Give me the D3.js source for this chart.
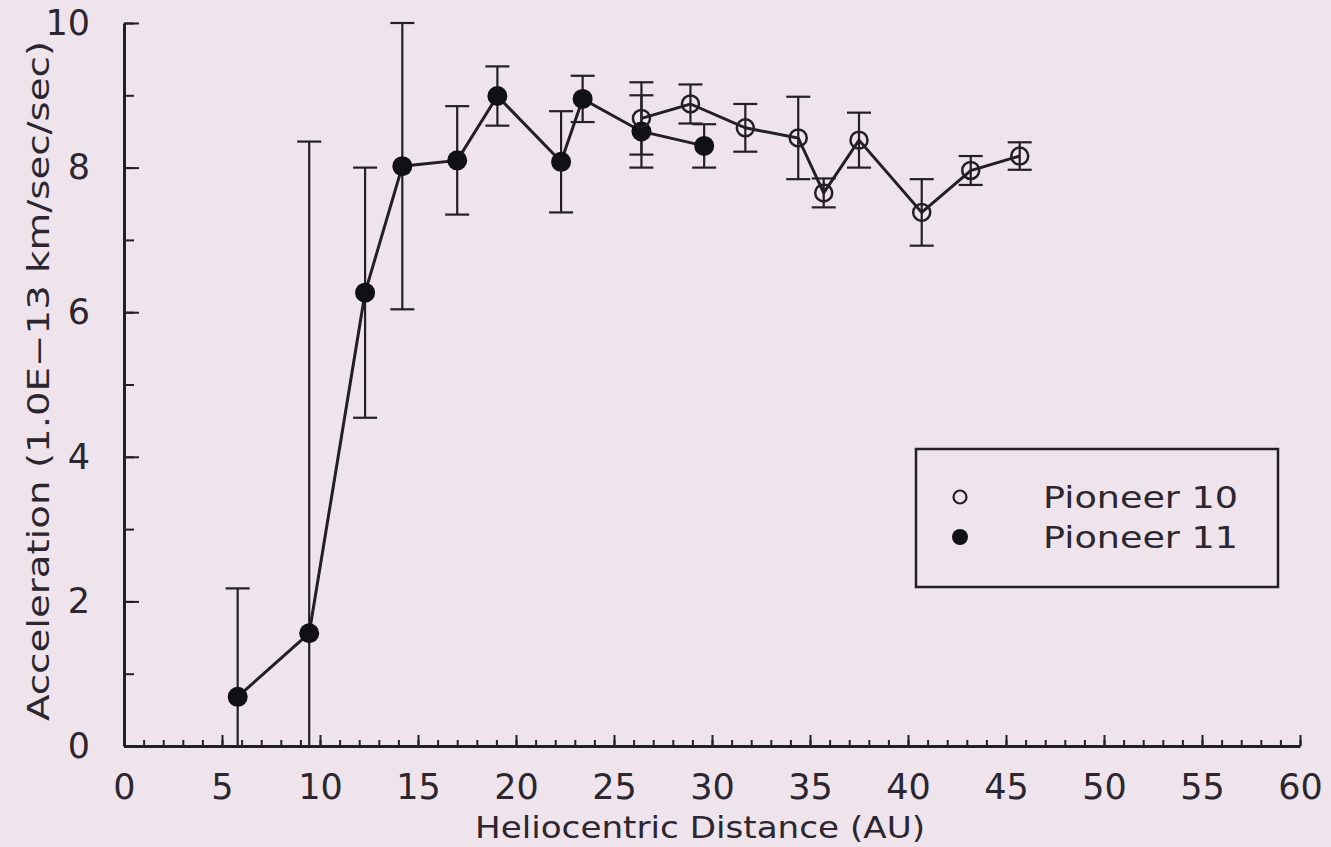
<!DOCTYPE html>
<html>
<head>
<meta charset="utf-8">
<script src="https://cdn.jsdelivr.net/npm/d3@7"></script>
<style>
  html, body { margin: 0; padding: 0; background: #efe4ec; }
  svg { display: block; }
  text { font-family: "DejaVu Sans", sans-serif; fill: #2b2630; }
</style>
</head>
<body>
<div id="canvas"></div>
<script>
"use strict";

// Pioneer anomalous acceleration vs distance

// data
let p10Dist = [26.4, 28.9, 31.7, 34.4, 35.7, 37.5, 40.7, 43.2, 45.7];
let p10Acc  = [8.68, 8.88, 8.55, 8.41, 7.65, 8.38, 7.38, 7.96, 8.16];
let p10Err  = [0.50, 0.27, 0.33, 0.57, 0.20, 0.38, 0.46, 0.20, 0.19];

let p11Dist = [5.8, 9.45, 12.3, 14.2, 17.0, 19.05, 22.3, 23.4, 26.4, 29.6];
let p11Acc  = [0.68, 1.56, 6.27, 8.02, 8.10, 8.99, 8.08, 8.95, 8.50, 8.30];
let p11Err  = [1.50, 6.80, 1.73, 1.98, 0.75, 0.41, 0.70, 0.32, 0.50, 0.30];

let xTicks = [0, 5, 10, 15, 20, 25, 30, 35, 40, 45, 50, 55, 60];
let yTicks = [0, 2, 4, 6, 8, 10];
let seriesNames = ["Pioneer 10", "Pioneer 11"];

// svg
let width = 1331;
let height = 847;
let ink = "#231f27";

let svg = d3.select("#canvas")
  .append("svg")
  .attr("width", width)
  .attr("height", height);

svg.append("rect")
  .attr("width", width)
  .attr("height", height)
  .attr("fill", "#efe4ec");

// scales
let xScale = d3.scaleLinear().domain([0, 60]).range([124, 1300]);
let yScale = d3.scaleLinear().domain([0, 10]).range([746, 23]);

// axes: minor ticks every unit, major ticks labelled
function styleAxis(g) {
  g.select(".domain").attr("stroke", ink).attr("stroke-width", 3);
  g.selectAll(".tick line").attr("stroke", ink).attr("stroke-width", 2);
  g.selectAll("text").style("font-size", "35px").attr("fill", "#2b2630");
}

svg.append("g")
  .attr("transform", `translate(0, ${yScale(0)})`)
  .call(d3.axisBottom(xScale).ticks(60).tickSize(-6).tickSizeOuter(0).tickFormat(""))
  .call(styleAxis);

svg.append("g")
  .attr("transform", `translate(0, ${yScale(0)})`)
  .call(d3.axisBottom(xScale).tickValues(xTicks).tickSize(-11).tickSizeOuter(0).tickPadding(28))
  .call(styleAxis)
  .call(g => g.select(".domain").remove());

svg.append("g")
  .attr("transform", `translate(${xScale(0)}, 0)`)
  .call(d3.axisLeft(yScale).ticks(10).tickSize(-10).tickSizeOuter(0).tickFormat(""))
  .call(styleAxis);

svg.append("g")
  .attr("transform", `translate(${xScale(0)}, 0)`)
  .call(d3.axisLeft(yScale).tickValues(yTicks).tickSize(-15).tickSizeOuter(0).tickPadding(34))
  .call(styleAxis)
  .call(g => g.select(".domain").remove());

// axis titles
svg.append("text")
  .attr("x", 700)
  .attr("y", 838)
  .attr("text-anchor", "middle")
  .attr("textLength", 450)
  .attr("lengthAdjust", "spacingAndGlyphs")
  .style("font-size", "30px")
  .text("Heliocentric Distance (AU)");

svg.append("text")
  .attr("transform", "translate(49, 381) rotate(-90)")
  .attr("text-anchor", "middle")
  .attr("textLength", 680)
  .attr("lengthAdjust", "spacingAndGlyphs")
  .style("font-size", "30px")
  .text("Acceleration (1.0E\u221213 km/sec/sec)");

// series
function makeSeries(xs, ys, es) {
  return xs.map((x, i) => ({ x: x, y: ys[i], e: es[i] }));
}
let p10 = makeSeries(p10Dist, p10Acc, p10Err);
let p11 = makeSeries(p11Dist, p11Acc, p11Err);

let line = d3.line().x(d => xScale(d.x)).y(d => yScale(d.y));

function drawErrors(data) {
  let g = svg.append("g").attr("stroke", ink).attr("stroke-width", 2.2);
  data.forEach(d => {
    let lo = Math.max(0, d.y - d.e);
    let hi = d.y + d.e;
    let cx = xScale(d.x);
    g.append("line").attr("x1", cx).attr("x2", cx).attr("y1", yScale(lo)).attr("y2", yScale(hi));
    g.append("line").attr("x1", cx - 12).attr("x2", cx + 12).attr("y1", yScale(hi)).attr("y2", yScale(hi));
    if (lo > 0) {
      g.append("line").attr("x1", cx - 12).attr("x2", cx + 12).attr("y1", yScale(lo)).attr("y2", yScale(lo));
    }
  });
}

drawErrors(p11);
drawErrors(p10);

svg.append("path").datum(p11)
  .attr("d", line).attr("fill", "none").attr("stroke", ink).attr("stroke-width", 3);
svg.append("path").datum(p10)
  .attr("d", line).attr("fill", "none").attr("stroke", ink).attr("stroke-width", 3);

svg.append("g").selectAll("circle")
  .data(p11)
  .enter()
  .append("circle")
  .attr("cx", d => xScale(d.x))
  .attr("cy", d => yScale(d.y))
  .attr("r", 10)
  .attr("fill", "#111014");

svg.append("g").selectAll("circle")
  .data(p10)
  .enter()
  .append("circle")
  .attr("cx", d => xScale(d.x))
  .attr("cy", d => yScale(d.y))
  .attr("r", 8.5)
  .attr("fill", "none")
  .attr("stroke", ink)
  .attr("stroke-width", 2.5);

// legend
let legend = svg.append("g");
legend.append("rect")
  .attr("x", 916).attr("y", 449)
  .attr("width", 362).attr("height", 138)
  .attr("fill", "none").attr("stroke", ink).attr("stroke-width", 2.5);

legend.append("circle")
  .attr("cx", 960).attr("cy", 497).attr("r", 6.5)
  .attr("fill", "none").attr("stroke", ink).attr("stroke-width", 2.2);
legend.append("circle")
  .attr("cx", 960).attr("cy", 537).attr("r", 8)
  .attr("fill", "#111014");

legend.selectAll("text.lab")
  .data(seriesNames)
  .enter()
  .append("text")
  .attr("class", "lab")
  .attr("x", 1043)
  .attr("y", (d, i) => 508 + i * 40)
  .attr("textLength", 195)
  .attr("lengthAdjust", "spacingAndGlyphs")
  .style("font-size", "30px")
  .text(d => d);
</script>
</body>
</html>
